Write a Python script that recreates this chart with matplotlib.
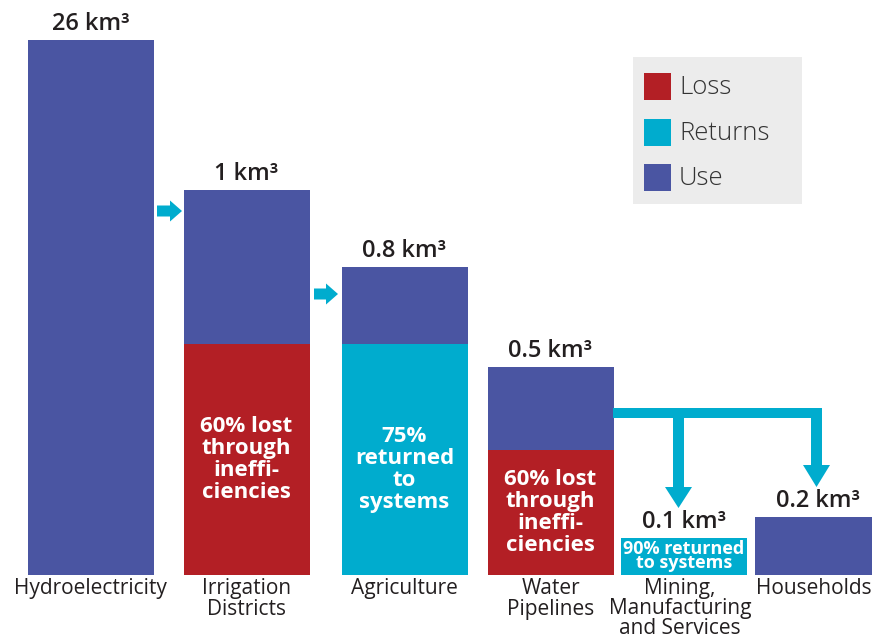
import matplotlib
matplotlib.use("Agg")
import matplotlib.pyplot as plt
from matplotlib.patches import Rectangle, FancyArrow

# ---- data -------------------------------------------------------------
categories = ["Hydroelectricity", "Irrigation\nDistricts", "Agriculture",
              "Water\nPipelines", "Mining,\nManufacturing\nand Services",
              "Households"]
volumes_km3 = ["26", "1", "0.8", "0.5", "0.1", "0.2"]
# bar heights on the chart's (non-proportional) display scale
display_height = [535, 385, 308, 208, 37, 58]
loss_share = [0.0, 0.60, 0.0, 0.60, 0.0, 0.0]
return_share = [0.0, 0.0, 0.75, 0.0, 1.0, 0.0]
inner_notes = ["", "60% lost\nthrough\nineffi-\nciencies",
               "75%\nreturned\nto\nsystems", "60% lost\nthrough\nineffi-\nciencies",
               "90% returned\nto systems", ""]
legend_labels = ["Loss", "Returns", "Use"]

# ---- style / layout ---------------------------------------------------
USE = "#4A55A2"
LOSS = "#B31F25"
RET = "#00ACCE"
TXT = "#231F20"
FONT = "Open Sans"
centers = [90.5, 246.5, 404.5, 550.5, 684.0, 817.5]
label_dx = [0, 0, 0, 0, -4, -4]
bar_w = 126
W, H = 872, 639
BASE = 575  # baseline, px from the top

fig = plt.figure(figsize=(W / 100, H / 100), dpi=100)
ax = fig.add_axes([0, 0, 1, 1])
ax.set_xlim(0, W)
ax.set_ylim(BASE - H, BASE)
ax.axis("off")


def py(p):
    """pixel row measured from the top -> axis y"""
    return BASE - p


for i, cat in enumerate(categories):
    h = display_height[i]
    loss = h * loss_share[i]
    ret = h * return_share[i]
    low = loss + ret
    low_col = LOSS if loss > 0 else RET
    if low > 0:
        ax.bar(centers[i], low, width=bar_w, bottom=0, color=low_col, linewidth=0)
    if h - low > 0:
        ax.bar(centers[i], h - low, width=bar_w, bottom=low, color=USE, linewidth=0)

    # value label above the bar
    ax.annotate(f"{volumes_km3[i]} km³", (centers[i], h), xytext=(0, 4),
                textcoords="offset pixels", ha="center", va="bottom",
                fontsize=17, fontweight="semibold", color=TXT, family=FONT)

    # note inside the lower segment
    if inner_notes[i]:
        small = i == 4
        ax.text(centers[i], low / 2 + (0.5 if small else -10 if i == 2 else 0),
                inner_notes[i], ha="center", va="center", color="white",
                fontsize=13 if small else 16, fontweight="bold",
                family=FONT, linespacing=0.78 if small else 1.05)

    # category label below the baseline
    three_lines = cat.count("\n") == 2
    ax.text(centers[i] + label_dx[i], -3, cat, ha="center", va="top",
            fontsize=15, color=TXT, family=FONT,
            linespacing=0.93 if three_lines else 1.02)

# flow arrows between the first stages
for x0, x1, yc in [(157, 182, 211), (314, 338, 294)]:
    ax.add_patch(FancyArrow(x0, py(yc), x1 - x0, 0, width=11, head_width=21,
                            head_length=12, length_includes_head=True,
                            color=RET, linewidth=0))

# split from the pipelines to the two end users
ax.add_patch(Rectangle((613, py(418)), 822 - 613, 10, color=RET, linewidth=0))
ax.add_patch(FancyArrow(678.5, py(413), 0, -(508 - 413), width=11, head_width=27,
                        head_length=21, length_includes_head=True,
                        color=RET, linewidth=0))
ax.add_patch(FancyArrow(816.5, py(413), 0, -(487 - 413), width=11, head_width=27,
                        head_length=22, length_includes_head=True,
                        color=RET, linewidth=0))

# legend box
ax.add_patch(Rectangle((633, py(204)), 169, 147, color="#ECECEC", linewidth=0))
for lab, col, yc in zip(legend_labels, [LOSS, RET, USE], [86.5, 132.5, 177.5]):
    ax.add_patch(Rectangle((644, py(yc + 13.5)), 27, 27, color=col, linewidth=0))
    ax.text(679, py(yc + 1), lab, ha="left", va="center", fontsize=18.5,
            color="#333333", family=FONT, fontweight="light")

fig.savefig("out.png", dpi=100)
